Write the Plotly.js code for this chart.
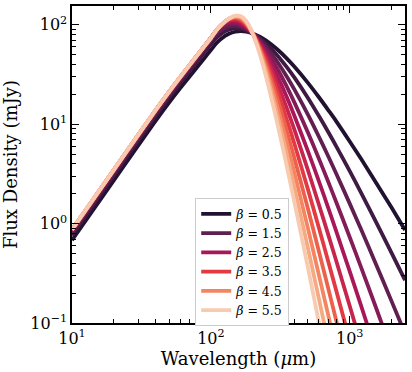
<!DOCTYPE html>
<html>
<head>
<meta charset="utf-8">
<script src="https://cdn.plot.ly/plotly-3.0.1.min.js"></script>
<style>
  html, body { margin: 0; padding: 0; background: #fff; }
  #sed { width: 412px; height: 372px; }
</style>
</head>
<body>
<div id="sed"></div>
<script>
// wavelength grid (micron)
var wave = [10, 20, 30, 40, 50, 60, 70, 80, 90, 100, 110, 120, 135, 150, 165, 180, 200,
            225, 250, 300, 350, 400, 500, 600, 700, 800, 1000, 1200, 1500, 2000, 2500];

var betas = ['0.5', '1.0', '1.5', '2.0', '2.5', '3.0', '3.5', '4.0', '4.5', '5.0', '5.5'];

// flux density (mJy)
var flux05 = [0.68, 2.72, 6.12, 10.82, 16.50, 22.93, 30.06, 37.88, 46.45, 55.8, 65.7, 73.5, 81.3, 85.3, 86.4, 85.3, 82.0,
              76.0, 69.5, 56.8, 46.3, 37.9, 26.1, 18.7, 13.9, 10.7, 6.71, 4.54, 2.77, 1.45, 0.864];
var flux10 = [0.76, 3.04, 6.84, 12.10, 18.51, 25.83, 34.00, 43.04, 52.96, 63.8, 74.3, 82.2, 89.2, 91.7, 90.9, 87.8, 82.0,
              73.3, 64.7, 49.6, 38.0, 29.4, 18.4, 12.1, 8.36, 6.00, 3.38, 2.08, 1.13, 0.508, 0.270];
var flux15 = [0.81, 3.24, 7.29, 12.90, 19.79, 27.71, 36.63, 46.53, 57.45, 69.4, 81.1, 89.5, 96.5, 97.8, 95.3, 90.4, 82.0,
              70.7, 60.0, 42.8, 30.6, 22.3, 12.5, 7.48, 4.76, 3.18, 1.59, 0.891, 0.431, 0.166, 0.0785];
var flux20 = [0.84, 3.36, 7.56, 13.38, 20.54, 28.79, 38.10, 48.45, 59.89, 72.4, 85.5, 95.0, 102.7, 103.5, 99.6, 92.9, 82.0,
              68.0, 55.5, 36.6, 24.3, 16.5, 8.24, 4.49, 2.64, 1.64, 0.730, 0.371, 0.160, 0.0531];
var flux25 = [0.855, 3.42, 7.70, 13.62, 20.90, 29.28, 38.73, 49.22, 60.81, 73.5, 87.7, 98.5, 107.6, 108.5, 103.7, 95.3, 82.0,
              65.4, 51.2, 31.0, 19.1, 12.1, 5.36, 2.66, 1.44, 0.834, 0.330, 0.153, 0.0587];
var flux30 = [0.862, 3.45, 7.76, 13.73, 21.05, 29.48, 38.96, 49.49, 61.09, 73.8, 88.5, 100.3, 111.1, 112.9, 107.6, 97.8, 82.0,
              62.8, 47.1, 26.1, 14.9, 8.78, 3.45, 1.55, 0.775, 0.420, 0.148, 0.0625];
var flux35 = [0.866, 3.46, 7.79, 13.79, 21.14, 29.57, 39.04, 49.55, 61.13, 73.8, 88.7, 101.1, 113.3, 116.4, 111.2, 100.1, 82.0,
              60.3, 43.2, 21.9, 11.5, 6.32, 2.21, 0.904, 0.416, 0.211, 0.0665];
var flux40 = [0.868, 3.47, 7.81, 13.82, 21.18, 29.62, 39.09, 49.59, 61.16, 73.8, 88.7, 101.3, 114.6, 119.2, 114.4, 102.4, 82.0,
              57.8, 39.5, 18.3, 8.83, 4.53, 1.41, 0.524, 0.223, 0.1055, 0.0298];
var flux45 = [0.87, 3.48, 7.83, 13.85, 21.22, 29.66, 39.13, 49.62, 61.16, 73.8, 88.7, 101.3, 115.2, 121.3, 117.4, 104.7, 82.0,
              55.4, 36.1, 15.2, 6.76, 3.23, 0.896, 0.303, 0.120, 0.0529];
var flux50 = [0.87, 3.48, 7.83, 13.85, 21.22, 29.66, 39.13, 49.62, 61.16, 73.8, 88.7, 101.3, 115.4, 122.7, 119.9, 106.9, 82.0,
              53.0, 32.9, 12.6, 5.16, 2.30, 0.568, 0.175, 0.0639];
var flux55 = [0.87, 3.48, 7.83, 13.85, 21.22, 29.66, 39.13, 49.62, 61.16, 73.8, 88.7, 101.3, 115.5, 123.6, 122.1, 109.0, 82.0,
              50.7, 29.9, 10.4, 3.93, 1.63, 0.360, 0.101, 0.0342];

var fluxes = [flux05, flux10, flux15, flux20, flux25, flux30, flux35, flux40, flux45, flux50, flux55];

// rocket palette, 11 steps
var colors = ['#211231', '#3f1a42', '#611e51', '#841c58', '#a81859', '#c7254d',
              '#e33943', '#ed604c', '#f48560', '#f5aa84', '#f8cbb0'];

var data = [];
for (var i = 0; i < betas.length; i++) {
    data.push({
        x: wave.slice(0, fluxes[i].length),
        y: fluxes[i],
        type: 'scatter',
        mode: 'lines',
        name: '<i>β</i> = ' + betas[i],
        showlegend: (i % 2 === 0),
        line: {color: colors[i], width: 3.8, shape: 'spline', smoothing: 0.8},
        hoverinfo: 'skip'
    });
}

var tickFont = {family: 'DejaVu Serif, serif', size: 16, color: 'black'};
var titleFont = {family: 'DejaVu Serif, serif', size: 18, color: 'black'};

var layout = {
    width: 412,
    height: 372,
    margin: {l: 72, r: 7, t: 6, b: 49},
    paper_bgcolor: 'white',
    plot_bgcolor: 'white',
    font: {family: 'DejaVu Serif, serif', color: 'black'},
    xaxis: {
        type: 'log',
        range: [1, Math.log10(2500)],
        showline: true, linecolor: 'black', linewidth: 1.6,
        mirror: 'allticks',
        ticks: 'inside', ticklen: 7, tickwidth: 1, tickcolor: 'black',
        tickmode: 'array',
        tickvals: [10, 100, 1000],
        ticktext: ['10<sup>1</sup>', '10<sup>2</sup>', '10<sup>3</sup>'],
        tickfont: tickFont,
        minor: {ticks: 'inside', ticklen: 4, tickwidth: 1, tickcolor: 'black', dtick: 'D1', showgrid: false},
        showgrid: false, zeroline: false,
        title: {text: 'Wavelength (<i>μ</i>m)', font: titleFont, standoff: 2}
    },
    yaxis: {
        type: 'log',
        range: [-1, 2.19],
        showline: true, linecolor: 'black', linewidth: 1.6,
        mirror: 'allticks',
        ticks: 'inside', ticklen: 7, tickwidth: 1, tickcolor: 'black',
        tickmode: 'array',
        tickvals: [0.1, 1, 10, 100],
        ticktext: ['10<sup>−1</sup>', '10<sup>0</sup>', '10<sup>1</sup>', '10<sup>2</sup>'],
        tickfont: tickFont,
        minor: {ticks: 'inside', ticklen: 4, tickwidth: 1, tickcolor: 'black', dtick: 'D1', showgrid: false},
        showgrid: false, zeroline: false,
        title: {text: 'Flux Density (mJy)', font: titleFont, standoff: 8}
    },
    legend: {
        x: 0.37, y: -0.01, xanchor: 'left', yanchor: 'bottom',
        bgcolor: 'white', bordercolor: '#cccccc', borderwidth: 1,
        font: {family: 'DejaVu Serif, serif', size: 12.5, color: 'black'},
        itemwidth: 30
    }
};

Plotly.newPlot('sed', data, layout, {displayModeBar: false, staticPlot: true});
</script>
</body>
</html>
